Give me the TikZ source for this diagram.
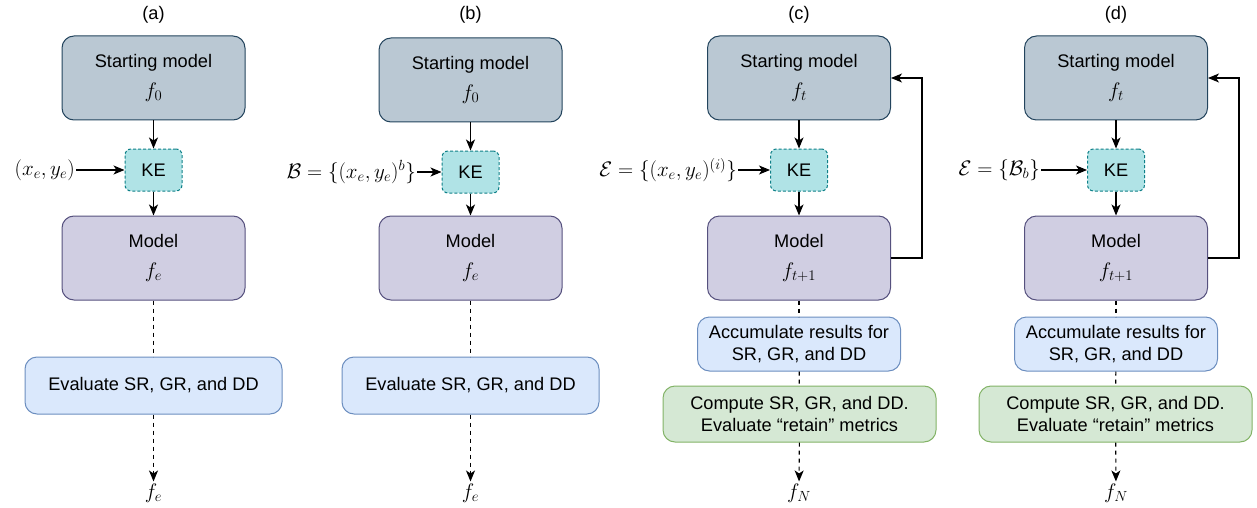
\RequirePackage{fix-cm}
\documentclass[tikz,border=0pt]{standalone}
\usepackage{amsmath}
\usepackage{fontspec}
\setmainfont{Liberation Sans}
\setsansfont{Liberation Sans}
\usetikzlibrary{arrows.meta,calc}
\definecolor{stfill}{HTML}{BAC8D3}
\definecolor{stdraw}{HTML}{23445D}
\definecolor{kefill}{HTML}{B0E3E6}
\definecolor{kedraw}{HTML}{0E8088}
\definecolor{mofill}{HTML}{D0CEE2}
\definecolor{modraw}{HTML}{56517E}
\definecolor{evfill}{HTML}{DAE8FC}
\definecolor{evdraw}{HTML}{6C8EBF}
\definecolor{cpfill}{HTML}{D5E8D4}
\definecolor{cpdraw}{HTML}{82B366}
\newcommand{\mth}[1]{{\fontsize{21}{24}\selectfont$#1$}}
\tikzset{
  box/.style={rounded corners=12pt, line width=1pt, align=center, inner sep=0pt,
    font=\fontsize{18.2}{21.6}\selectfont},
  bigbox/.style={box, minimum width=183pt, minimum height=84pt},
  startbox/.style={bigbox, fill=stfill, draw=stdraw},
  modelbox/.style={bigbox, fill=mofill, draw=modraw},
  kebox/.style={box, rounded corners=6pt, dashed, dash pattern=on 3pt off 2pt,
    fill=kefill, draw=kedraw, minimum width=57pt, minimum height=42pt},
  evalbox/.style={box, fill=evfill, draw=evdraw, minimum width=257pt, minimum height=57pt},
  accbox/.style={box, fill=evfill, draw=evdraw, minimum width=203pt, minimum height=54pt},
  compbox/.style={box, fill=cpfill, draw=cpdraw, minimum width=273pt, minimum height=56pt},
  title/.style={font=\fontsize{18.2}{21.6}\selectfont, inner sep=0pt},
  lbl/.style={inner sep=1pt, anchor=east},
  outlbl/.style={inner sep=2pt},
  arr/.style={line width=1.1pt, -{Stealth[length=11pt,width=9pt,inset=3pt]}},
  dline/.style={line width=1.1pt, dash pattern=on 4pt off 4pt},
  darr/.style={dline, -{Stealth[length=11pt,width=9pt,inset=3pt]}},
}
\begin{document}
\begin{tikzpicture}[x=1pt,y=-1pt]
\useasboundingbox (0,0) rectangle (1257,508);
% ---------- (a)
\node[title] (ta) at (153.5,15) {(a)};
\node[startbox] (sa) at (153.5,78) {Starting model\\[8pt]\mth{f_0}};
\node[kebox] (ka) at (153.5,170) {KE};
\node[modelbox] (ma) at (153.5,258) {Model\\[8pt]\mth{f_e}};
\node[evalbox] (ea) at (153.5,385.5) {Evaluate SR, GR, and DD};
\node[outlbl] (fa) at (153.5,493) {\mth{f_e}};
\node[lbl] (la) at (76,170) {\mth{(x_e, y_e)}};
\draw[arr] (sa) -- (ka);
\draw[arr] (ka) -- (ma);
\draw[arr] (la) -- (ka);
\draw[dline] (ma) -- (ea);
\draw[darr] (ea) -- (fa);
% ---------- (b)
\node[title] (tb) at (470.5,15) {(b)};
\node[startbox] (sb) at (470.5,80) {Starting model\\[8pt]\mth{f_0}};
\node[kebox] (kb) at (470.5,172) {KE};
\node[modelbox] (mb) at (470.5,258) {Model\\[8pt]\mth{f_e}};
\node[evalbox] (eb) at (470.5,385.5) {Evaluate SR, GR, and DD};
\node[outlbl] (fb) at (470.5,493) {\mth{f_e}};
\node[lbl] (lb) at (417,172) {\mth{\mathcal{B} = \{(x_e, y_e)^b\}}};
\draw[arr] (sb) -- (kb);
\draw[arr] (kb) -- (mb);
\draw[arr] (lb) -- (kb);
\draw[dline] (mb) -- (eb);
\draw[darr] (eb) -- (fb);
% ---------- (c)
\node[title] (tc) at (799,15) {(c)};
\node[startbox] (sc) at (799,78) {Starting model\\[8pt]\mth{f_t}};
\node[kebox] (kc) at (799,170) {KE};
\node[modelbox] (mc) at (799,258) {Model\\[8pt]\mth{f_{t+1}}};
\node[accbox] (ac) at (799,344) {Accumulate results for\\SR, GR, and DD};
\node[compbox] (cc) at (799.5,414) {Compute SR, GR, and DD.\\Evaluate “retain” metrics};
\node[outlbl] (fc) at (799,493) {\mth{f_N}};
\node[lbl] (lc) at (738,170) {\mth{\mathcal{E} = \{(x_e, y_e)^{(i)}\}}};
\coordinate (bc) at (922,258);
\draw[arr] (sc) -- (kc);
\draw[arr] (kc) -- (mc);
\draw[arr] (lc) -- (kc);
\draw[arr] (mc.east) -- (bc) |- (sc.east);
\draw[dline] (mc) -- (ac);
\draw[dline] (ac) -- (cc);
\draw[darr] (cc) -- (fc);
% ---------- (d)
\node[title] (td) at (1116,15) {(d)};
\node[startbox] (sd) at (1116,78) {Starting model\\[8pt]\mth{f_t}};
\node[kebox] (kd) at (1116,170) {KE};
\node[modelbox] (md) at (1116,258) {Model\\[8pt]\mth{f_{t+1}}};
\node[accbox] (ad) at (1116,344) {Accumulate results for\\SR, GR, and DD};
\node[compbox] (cd) at (1115.5,414) {Compute SR, GR, and DD.\\Evaluate “retain” metrics};
\node[outlbl] (fd) at (1116,493) {\mth{f_N}};
\node[lbl] (ld) at (1041,170) {\mth{\mathcal{E} = \{\mathcal{B}_b\}}};
\coordinate (bd) at (1239,258);
\draw[arr] (sd) -- (kd);
\draw[arr] (kd) -- (md);
\draw[arr] (ld) -- (kd);
\draw[arr] (md.east) -- (bd) |- (sd.east);
\draw[dline] (md) -- (ad);
\draw[dline] (ad) -- (cd);
\draw[darr] (cd) -- (fd);
\end{tikzpicture}
\end{document}
